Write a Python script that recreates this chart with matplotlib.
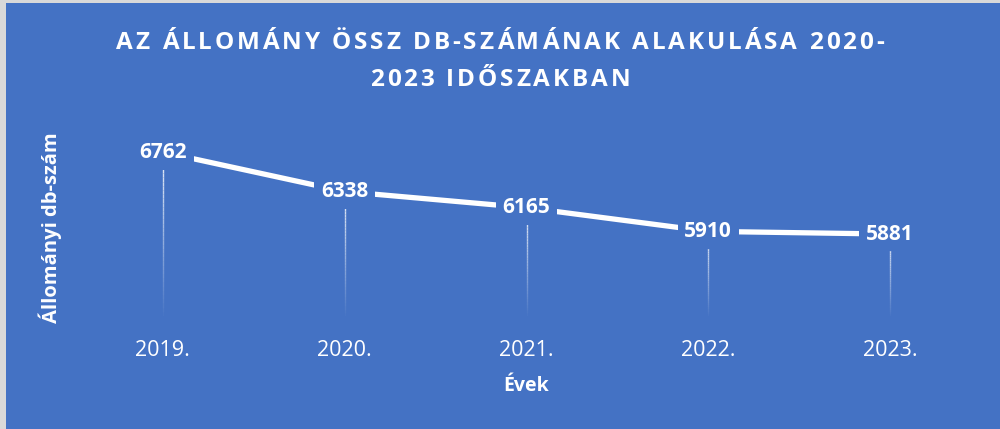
import numpy as np
import matplotlib.pyplot as plt
from matplotlib.patches import Rectangle
from matplotlib.collections import LineCollection

years = ['2019.', '2020.', '2021.', '2022.', '2023.']
counts = [6762, 6338, 6165, 5910, 5881]
title_lines = ['AZ ÁLLOMÁNY ÖSSZ DB-SZÁMÁNAK ALAKULÁSA 2020-', '2023 IDŐSZAKBAN']

blue = '#4472C4'
plt.rcParams['font.family'] = ['Open Sans', 'DejaVu Sans']

fig = plt.figure(figsize=(10, 4.29), dpi=100)
fig.patch.set_facecolor(blue)
# thin grey frame on the left and top
fig.add_artist(Rectangle((0, 0), 0.006, 1, transform=fig.transFigure,
                         facecolor='#d9d9d9', edgecolor='none'))
fig.add_artist(Rectangle((0, 0.993), 1, 0.007, transform=fig.transFigure,
                         facecolor='#d9d9d9', edgecolor='none'))

ax = fig.add_axes([0.072, 1 - 316 / 429, 0.909, (316 - 130) / 429])
ax.set_facecolor('none')
x = np.arange(len(years))
ax.set_xlim(-0.5, len(years) - 0.5)
ax.set_ylim(5000, 7000)

# drop lines fading towards the axis
fade = np.linspace(0, 1, 40)
for xi, yi in zip(x, counts):
    ys = yi + (5000 - yi) * fade
    segs = [[(xi, ys[k]), (xi, ys[k + 1])] for k in range(len(ys) - 1)]
    alphas = 0.9 * (1 - fade[:-1])
    cols = [(1, 1, 1, a) for a in alphas]
    ax.add_collection(LineCollection(segs, colors=cols, linewidths=1.0, zorder=1))

ax.plot(x, counts, color='white', lw=3.8, solid_capstyle='butt', zorder=2)

for xi, yi in zip(x, counts):
    ax.text(xi, yi, str(yi), ha='center', va='center', color='white',
            fontsize=15, fontweight='bold', zorder=3,
            bbox=dict(boxstyle='square,pad=0.33', facecolor=blue, edgecolor='none'))

ax.set_xticks(x)
ax.set_xticklabels(years, color='white', fontsize=15.5)
ax.tick_params(axis='x', length=0, pad=17)
ax.set_yticks([])
for s in ax.spines.values():
    s.set_visible(False)

ax.set_xlabel('Évek', color='white', fontsize=14, fontweight='bold', labelpad=11)
fig.text(0.05, 1 - 228 / 429, 'Állományi db-szám', rotation=90, ha='center', va='center',
         color='white', fontsize=14.5, fontweight='bold')


# title with letter spacing, placed character by character
def spaced_text(s, yc, size, track):
    r = fig.canvas.get_renderer()
    widths = []
    for ch in s:
        t = fig.text(0, 0, ch.replace(' ', '\u00a0'), fontsize=size, fontweight='bold')
        widths.append(t.get_window_extent(r).width)
        t.remove()
    total = sum(widths) + track * (len(s) - 1)
    xp = (fig.bbox.width - total) / 2
    for ch, w in zip(s, widths):
        if ch != ' ':
            fig.text(xp / fig.bbox.width, yc, ch, fontsize=size, fontweight='bold',
                     color='white', ha='left', va='center')
        xp += w + track


spaced_text(title_lines[0], 1 - 43 / 429, 17.5, 2.9)
spaced_text(title_lines[1], 1 - 80 / 429, 17.5, 2.9)

fig.savefig('out.png', dpi=100, facecolor=fig.get_facecolor())
